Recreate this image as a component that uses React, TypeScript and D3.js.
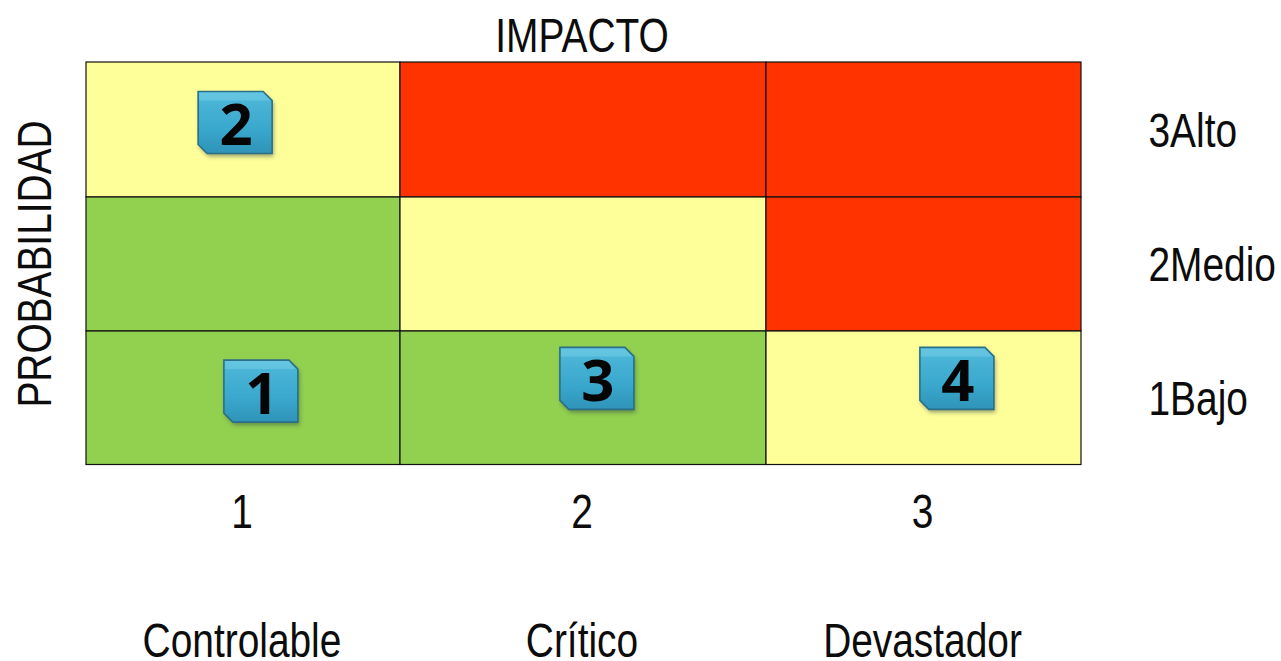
import React from "react";
import * as d3 from "d3";

const impactLevels = ["1", "2", "3"];
const impactNames = ["Controlable", "Crítico", "Devastador"];
const probabilityLabels = ["3Alto", "2Medio", "1Bajo"];
const cellColors = [
  ["#ffff99", "#ff3300", "#ff3300"],
  ["#92d050", "#ffff99", "#ff3300"],
  ["#92d050", "#92d050", "#ffff99"],
];
const riskIds = ["1", "2", "3", "4"];
const riskColumn = [0.557, 0.475, 1.538, 2.606];
const riskRow = [2.45, 0.448, 2.355, 2.355];

const LABEL_FONT = "'Liberation Sans', Arial, sans-serif";
const LABEL_SIZE = 48;
const LABEL_SQUEEZE = 0.81;

const x = d3.scaleLinear().domain([0, 1, 2, 3]).range([86, 400, 766, 1081]);
const y = d3.scaleLinear().domain([0, 1, 2, 3]).range([62, 197, 331, 464.5]);

// Narrow lettering: the glyphs are squeezed horizontally around their anchor.
function Label({
  px,
  py,
  text,
  anchor = "middle",
  rotate = 0,
}: {
  px: number;
  py: number;
  text: string;
  anchor?: "start" | "middle";
  rotate?: number;
}) {
  return (
    <text
      transform={`translate(${px},${py}) rotate(${rotate}) scale(${LABEL_SQUEEZE},1)`}
      textAnchor={anchor}
      fontFamily={LABEL_FONT}
      fontSize={LABEL_SIZE}
      fill="#0c0c0c"
    >
      {text}
    </text>
  );
}

function RiskBadge({ id, cx, cy }: { id: string; cx: number; cy: number }) {
  const w = 37;
  const h = 31;
  const c = 9;
  const outline = `M${cx - w},${cy - h} H${cx + w - c} L${cx + w},${cy - h + c} V${cy + h} H${cx - w + c} L${cx - w},${cy + h - c} Z`;
  const topBevel = `M${cx - w + 1},${cy - h + 1} H${cx + w - c} L${cx + w - 2},${cy - h + c} V${cy - h + 9} H${cx - w + 1} Z`;
  return (
    <g>
      <path d={outline} transform="translate(1.5,3)" fill="#26343a" opacity={0.45} filter="url(#badgeShadow)" />
      <g filter="url(#badgeSoft)">
        <path d={outline} fill="url(#badgeFill)" stroke="#2b6f88" strokeWidth={1.6} />
        <path d={topBevel} fill="#8fdcf0" opacity={0.35} />
      </g>
      <text
        x={cx + 1}
        y={cy + 23}
        textAnchor="middle"
        fontFamily="'Open Sans', 'Noto Sans', sans-serif"
        fontWeight={700}
        fontSize={58}
        fill="#050505"
      >
        {id}
      </text>
    </g>
  );
}

export default function App() {
  return (
    <svg
      width={1281}
      height={661}
      viewBox="0 0 1281 661"
      style={{ position: "absolute", left: 0, top: 0, background: "#fff" }}
    >
      <defs>
        <linearGradient id="badgeFill" x1="0" y1="0" x2="0" y2="1">
          <stop offset="0" stopColor="#4fb9da" />
          <stop offset="0.6" stopColor="#3aa8cd" />
          <stop offset="1" stopColor="#2f93b8" />
        </linearGradient>
        <filter id="badgeShadow" x="-20%" y="-20%" width="140%" height="140%">
          <feGaussianBlur stdDeviation="2" />
        </filter>
        <filter id="badgeSoft" x="-5%" y="-5%" width="110%" height="110%">
          <feGaussianBlur stdDeviation="0.6" />
        </filter>
      </defs>

      {cellColors.map((row, r) =>
        row.map((color, c) => (
          <rect
            key={`${r}-${c}`}
            x={x(c)}
            y={y(r)}
            width={x(c + 1) - x(c)}
            height={y(r + 1) - y(r)}
            fill={color}
            stroke="#111"
            strokeWidth={1.2}
          />
        ))
      )}

      {riskIds.map((id, i) => (
        <RiskBadge key={id} id={id} cx={x(riskColumn[i])} cy={y(riskRow[i])} />
      ))}

      <Label px={582} py={52} text="IMPACTO" />
      <Label px={51} py={264} text="PROBABILIDAD" rotate={-90} />

      {impactLevels.map((level, i) => (
        <Label key={level} px={x(i + 0.5) - 1} py={528} text={level} />
      ))}
      {impactNames.map((name, i) => (
        <Label key={name} px={x(i + 0.5) - 1} py={657} text={name} />
      ))}
      {probabilityLabels.map((label, i) => (
        <Label key={label} px={1148.5} py={y(i + 0.5) + 17} text={label} anchor="start" />
      ))}
    </svg>
  );
}
